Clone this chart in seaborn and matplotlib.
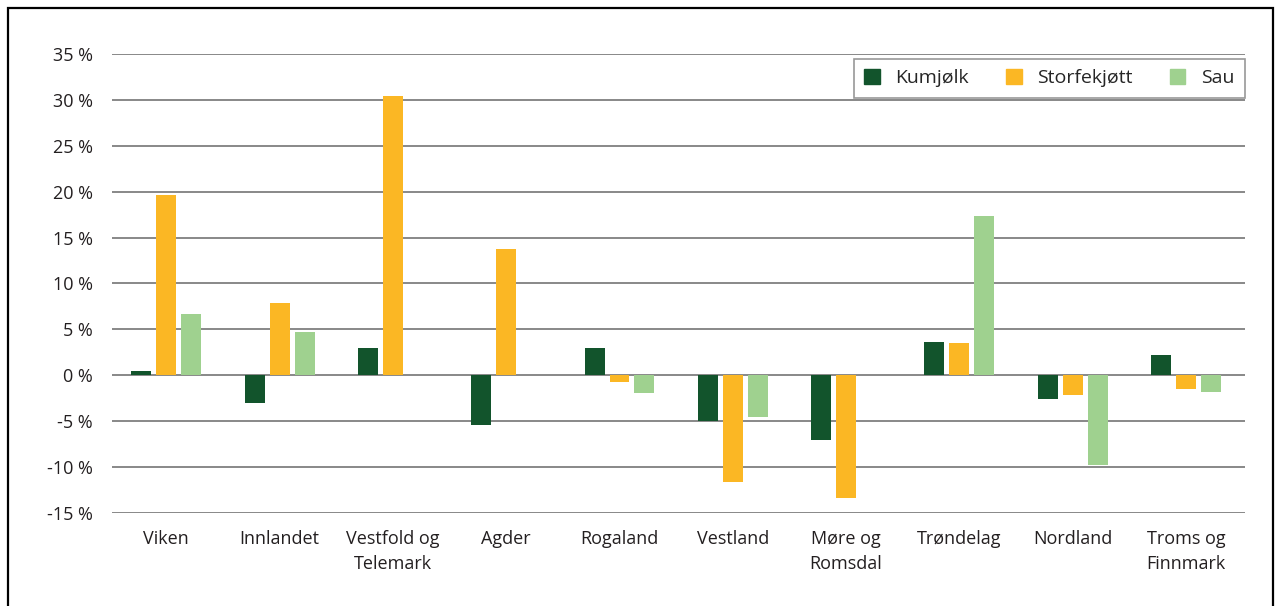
import pandas as pd
import seaborn as sns
import matplotlib.pyplot as plt
from matplotlib.patches import Rectangle

regions = ["Viken", "Innlandet", "Vestfold og\nTelemark", "Agder", "Rogaland",
           "Vestland", "Møre og\nRomsdal", "Trøndelag", "Nordland", "Troms og\nFinnmark"]
kumjolk = [0.5, -3.0, 3.0, -5.4, 3.0, -5.0, -7.0, 3.6, -2.6, 2.2]
storfekjott = [19.6, 7.9, 30.4, 13.8, -0.7, -11.6, -13.4, 3.5, -2.2, -1.5]
sau = [6.7, 4.7, 0.0, 0.0, -1.9, -4.5, 0.0, 17.4, -9.8, -1.8]
series = ["Kumjølk", "Storfekjøtt", "Sau"]
colors = ["#12542c", "#fbb724", "#9fd18f"]
yticks = [-15, -10, -5, 0, 5, 10, 15, 20, 25, 30, 35]

df = pd.DataFrame({
    "region": regions * 3,
    "serie": [series[0]] * 10 + [series[1]] * 10 + [series[2]] * 10,
    "verdi": kumjolk + storfekjott + sau,
})

sns.set_style("white")
plt.rcParams["font.family"] = ["Open Sans", "DejaVu Sans"]

fig = plt.figure(figsize=(12.8, 6.06), dpi=100)
ax = fig.add_axes([0.0875, 0.1535, 0.885, 0.7574])

sns.barplot(data=df, x="region", y="verdi", hue="serie", hue_order=series,
            palette=colors, width=0.66, gap=0.2, saturation=1, linewidth=0,
            ax=ax, errorbar=None)

ax.set_ylim(-15, 35)
ax.set_xlim(-0.48, 9.52)
ax.set_yticks(yticks)
ax.set_yticklabels([f"{t} %" for t in yticks])
ax.set_xlabel("")
ax.set_ylabel("")
for t in yticks:
    ax.axhline(t, color="#7f7f7f", lw=1.3, zorder=0)
for s in ax.spines.values():
    s.set_visible(False)
ax.tick_params(axis="y", length=0, pad=14, labelsize=13, colors="#231f20")
ax.tick_params(axis="x", length=0, pad=12, labelsize=13, colors="#231f20")
for lab in ax.get_xticklabels():
    lab.set_linespacing(1.55)

handles = [Rectangle((0, 0), 1, 1, color=c) for c in colors]
leg = ax.legend(handles, series, ncol=3, loc="upper right", bbox_to_anchor=(1.0, 0.99),
                borderaxespad=0, frameon=True, fancybox=False, fontsize=14,
                handlelength=0.8, handleheight=0.8, handletextpad=0.8,
                columnspacing=1.9, borderpad=0.55)
leg.get_frame().set_edgecolor("#7f7f7f")
leg.get_frame().set_linewidth(1.2)

fig.patches.append(Rectangle((8 / 1280, -0.2), 1265 / 1280, 1.2 - 8 / 606,
                             transform=fig.transFigure, fill=False,
                             edgecolor="black", lw=1.6))

fig.savefig("out.png", dpi=100)
